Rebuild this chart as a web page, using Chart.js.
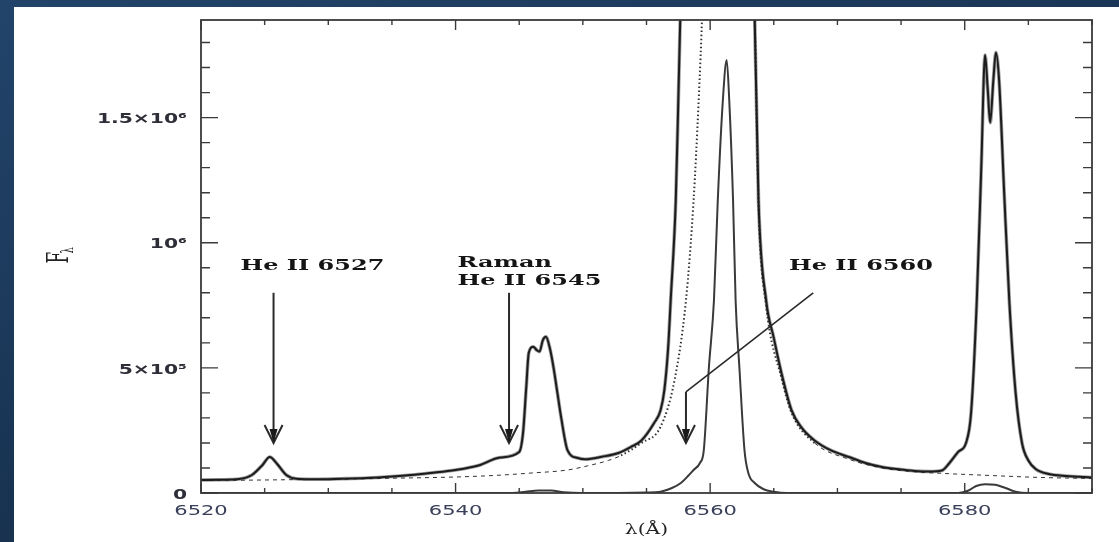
<!DOCTYPE html>
<html>
<head>
<meta charset="utf-8">
<script src="https://cdn.jsdelivr.net/npm/chart.js@4.4.1/dist/chart.umd.min.js"></script>
<style>
  html, body { margin: 0; padding: 0; }
  body {
    width: 1119px; height: 542px; overflow: hidden; position: relative;
    background: linear-gradient(160deg, #22446a 0%, #1a3656 45%, #0f2238 100%);
  }
  #panel {
    position: absolute; left: 14px; top: 7px; width: 1105px; height: 535px;
    background: #ffffff;
  }
</style>
</head>
<body>
<div id="panel"><canvas id="spectrum"></canvas></div>
<script>
// wavelengths in Angstrom, fluxes in units of 1e5

// observed spectrum
const obsLam = [6520.0, 6521.5, 6523.0, 6524.0, 6524.8, 6525.4, 6526.0, 6526.7, 6527.5, 6529.0,
  6531.0, 6533.0, 6535.0, 6536.5, 6538.0, 6540.0, 6541.8, 6543.5, 6545.0, 6545.3,
  6545.55, 6545.75, 6546.1, 6546.4, 6546.6, 6546.85, 6547.1, 6547.4, 6547.7, 6548.0,
  6548.3, 6548.8, 6549.6, 6550.2, 6551.5, 6552.8, 6553.8, 6554.6, 6555.6, 6556.1,
  6556.4, 6556.7, 6556.9, 6557.3, 6557.5, 6557.7, 6558.2, 6559.0, 6561.0, 6563.0,
  6563.5, 6563.8, 6564.4, 6565.0, 6565.6, 6566.4, 6567.2, 6568.2, 6569.5, 6570.9,
  6572.2, 6573.5, 6575.0, 6576.1, 6577.2, 6578.2, 6578.8, 6579.5, 6580.1, 6580.5,
  6580.95, 6581.3, 6581.6, 6581.8, 6582.0, 6582.25, 6582.45, 6582.7, 6583.1, 6583.5,
  6584.0, 6584.5, 6585.0, 6585.6, 6586.6, 6588.0, 6590.0];
const obsFlux = [0.52, 0.53, 0.56, 0.72, 1.1, 1.44, 1.15, 0.72, 0.57, 0.55,
  0.57, 0.6, 0.66, 0.72, 0.8, 0.92, 1.1, 1.42, 1.64, 2.4,
  4.2, 5.6, 5.84, 5.7, 5.65, 6.1, 6.24, 5.8, 5.0, 4.0,
  3.0, 1.7, 1.4, 1.35, 1.45, 1.6, 1.85, 2.1, 2.8, 3.3,
  4.1, 5.8, 7.7, 11.7, 15.7, 20, 30, 40, 45, 35,
  19, 11.7, 7.7, 6.2, 4.8, 3.3, 2.6, 2.1, 1.7, 1.44,
  1.2, 1.04, 0.94, 0.88, 0.86, 0.9, 1.2, 1.65, 2.0, 3.2,
  7.7, 13, 17.5, 16.2, 14.8, 16.5, 17.6, 16.5, 12, 7.7,
  4.0, 2.0, 1.3, 0.95, 0.76, 0.68, 0.62];

// broad H-alpha wing + continuum model
const wingLam = [6520, 6525, 6530, 6535, 6540, 6543, 6546, 6548.8, 6550.5, 6552,
  6553, 6554.6, 6556.1, 6557.2, 6558.1, 6558.7, 6559.1, 6559.4, 6560.0, 6561.4,
  6562.8, 6563.5, 6563.8, 6564.4, 6565.6, 6566.4, 6568.2, 6570.9, 6573.5, 6576.0,
  6578.0, 6582.0, 6586.0, 6590.0];
const wingFlux = [0.5, 0.52, 0.55, 0.59, 0.64, 0.7, 0.8, 0.92, 1.1, 1.3,
  1.5, 2.0, 2.64, 4.5, 7.7, 11.7, 15.7, 19.5, 30, 40,
  30, 19, 11.5, 7.5, 4.6, 3.2, 2.0, 1.35, 1.0, 0.85,
  0.79, 0.7, 0.62, 0.58];

// narrow component
const narrowLam = [6520, 6544.5, 6545.5, 6546.5, 6547.5, 6548.5, 6550, 6555, 6556.1, 6557.0,
  6557.7, 6558.3, 6558.7, 6559.2, 6559.5, 6559.9, 6560.3, 6560.6, 6561.0, 6561.3,
  6561.5, 6561.8, 6562.0, 6562.3, 6562.7, 6563.0, 6563.5, 6564.2, 6565.0, 6566,
  6579.5, 6580.3, 6580.9, 6581.6, 6582.4, 6583.2, 6584, 6585, 6590];
const narrowFlux = [0, 0, 0.05, 0.1, 0.1, 0.03, 0, 0.02, 0.05, 0.2,
  0.4, 0.7, 0.92, 1.2, 1.7, 5.0, 7.7, 11.7, 15.7, 17.3,
  15.7, 11.7, 7.7, 5.0, 1.7, 0.8, 0.4, 0.15, 0.05, 0,
  0, 0.1, 0.28, 0.35, 0.33, 0.2, 0.05, 0, 0];

// axis labels
const xTickValues = [6520, 6540, 6560, 6580];
const yTickValues = [0, 5, 10, 15];
const yTickLabels = ['0', '5×10⁵', '10⁶', '1.5×10⁶'];

// line identifications
const noteLabels = ['He II 6527', 'Raman', 'He II 6545', 'He II 6560'];
const noteLam = [6523.1, 6540.15, 6540.15, 6566.2];
const noteFlux = [8.92, 9.04, 8.32, 8.92];
const arrowLam = [6525.7, 6544.2, 6558.1];
const arrowTop = [8.0, 8.0, 4.04];
const arrowTip = [2.0, 2.0, 2.0];
const leaderLam = [6568.1, 6558.1];
const leaderFlux = [8.0, 4.04];

const pts = (xs, ys) => xs.map((v, i) => ({ x: v, y: ys[i] }));

function wideText(ctx, str, px, py, align, sx) {
  ctx.save();
  ctx.translate(px, py);
  ctx.scale(sx, 1);
  ctx.textAlign = align;
  ctx.fillText(str, 0, 0);
  ctx.restore();
}

function arrowHead(ctx, px, py) {
  ctx.beginPath();
  ctx.moveTo(px - 9, py - 18);
  ctx.lineTo(px, py);
  ctx.lineTo(px + 9, py - 18);
  ctx.stroke();
  ctx.beginPath();
  ctx.moveTo(px, py);
  ctx.lineTo(px - 4, py - 14);
  ctx.lineTo(px + 4, py - 14);
  ctx.closePath();
  ctx.fill();
}

const frame = {
  id: 'frame',
  afterDatasetsDraw(chart) {
    const { ctx, chartArea: a, scales: { x, y } } = chart;
    ctx.save();
    ctx.strokeStyle = '#3a3a3a';
    ctx.lineWidth = 1.8;
    ctx.strokeRect(a.left, a.top, a.right - a.left, a.bottom - a.top);

    ctx.lineWidth = 1.4;
    ctx.beginPath();
    x.ticks.forEach(t => {
      const px = x.getPixelForValue(t.value);
      const len = t.value % 20 === 0 ? 10 : 5;
      ctx.moveTo(px, a.bottom); ctx.lineTo(px, a.bottom - len);
      ctx.moveTo(px, a.top); ctx.lineTo(px, a.top + len);
    });
    y.ticks.forEach(t => {
      if (!Number.isInteger(t.value)) return;
      const py = y.getPixelForValue(t.value);
      const len = t.value % 5 === 0 ? 17 : 9;
      ctx.moveTo(a.left, py); ctx.lineTo(a.left + len, py);
      ctx.moveTo(a.right, py); ctx.lineTo(a.right - len, py);
    });
    ctx.stroke();

    // tick labels
    ctx.fillStyle = '#2e2e38';
    ctx.font = 'bold 14px "DejaVu Sans"';
    ctx.textBaseline = 'middle';
    yTickValues.forEach((v, i) => {
      wideText(ctx, yTickLabels[i], a.left - 14, y.getPixelForValue(v) + 2, 'right', 1.45);
    });
    ctx.fillStyle = '#3a405a';
    ctx.font = '14px "DejaVu Sans"';
    xTickValues.forEach(v => {
      wideText(ctx, String(v), x.getPixelForValue(v), a.bottom + 18, 'center', 1.5);
    });

    // axis titles
    ctx.fillStyle = '#222';
    ctx.font = '15px "DejaVu Serif"';
    wideText(ctx, 'λ(Å)', (a.left + a.right) / 2, a.bottom + 37, 'center', 1.35);
    ctx.save();
    ctx.translate(a.left - 133, (a.top + a.bottom) / 2 + 7);
    ctx.scale(1.7, 1);
    ctx.rotate(-Math.PI / 2);
    ctx.textAlign = 'left';
    ctx.textBaseline = 'alphabetic';
    ctx.font = '17px "DejaVu Serif"';
    ctx.fillText('F', 0, 0);
    ctx.font = '10px "DejaVu Serif"';
    ctx.fillText('λ', 10, 3);
    ctx.restore();

    // line identifications
    ctx.fillStyle = '#151515';
    ctx.textBaseline = 'alphabetic';
    ctx.font = 'bold 15px "DejaVu Serif"';
    noteLabels.forEach((s, i) => {
      wideText(ctx, s, x.getPixelForValue(noteLam[i]), y.getPixelForValue(noteFlux[i]), 'left', 1.6);
    });

    ctx.strokeStyle = '#2a2a2a';
    ctx.fillStyle = '#1a1a1a';
    ctx.lineWidth = 2;
    arrowLam.forEach((l, i) => {
      const px = x.getPixelForValue(l);
      const top = y.getPixelForValue(arrowTop[i]);
      const tip = y.getPixelForValue(arrowTip[i]);
      ctx.beginPath();
      ctx.moveTo(px, top); ctx.lineTo(px, tip - 2);
      ctx.stroke();
      arrowHead(ctx, px, tip);
    });
    ctx.lineWidth = 1.6;
    ctx.beginPath();
    ctx.moveTo(x.getPixelForValue(leaderLam[0]), y.getPixelForValue(leaderFlux[0]));
    ctx.lineTo(x.getPixelForValue(leaderLam[1]), y.getPixelForValue(leaderFlux[1]));
    ctx.stroke();
    ctx.restore();
  }
};

new Chart(document.getElementById('spectrum'), {
  type: 'line',
  data: {
    datasets: [
      {
        label: 'observed',
        data: pts(obsLam, obsFlux),
        borderColor: '#1c1c1c',
        borderWidth: 2,
        pointRadius: 0,
        cubicInterpolationMode: 'monotone',
        order: 1
      },
      {
        label: 'narrow',
        data: pts(narrowLam, narrowFlux),
        borderColor: '#3a3a3a',
        borderWidth: 2,
        pointRadius: 0,
        cubicInterpolationMode: 'monotone',
        order: 2
      },
      {
        label: 'wing',
        data: pts(wingLam, wingFlux),
        borderColor: '#333',
        borderWidth: 1.2,
        pointRadius: 0,
        cubicInterpolationMode: 'monotone',
        segment: {
          borderDash: c => (c.p0.parsed.y > 1.45 && c.p1.parsed.y > 1.45) ? [1.5, 2.5] : [4, 4],
          borderWidth: c => (c.p0.parsed.y > 1.45 && c.p1.parsed.y > 1.45) ? 2 : 1
        },
        order: 3
      },
      {
        label: 'observed (halo)',
        data: pts(obsLam, obsFlux),
        borderColor: '#a0a0a0',
        borderWidth: 3.6,
        pointRadius: 0,
        cubicInterpolationMode: 'monotone',
        order: 4
      }
    ]
  },
  options: {
    animation: false,
    responsive: true,
    maintainAspectRatio: false,
    layout: { padding: { left: 187, top: 13, right: 27, bottom: 49 } },
    plugins: { legend: { display: false }, tooltip: { enabled: false } },
    scales: {
      x: {
        type: 'linear', min: 6520, max: 6590,
        ticks: { display: false, stepSize: 5 },
        grid: { display: false },
        border: { display: false },
        afterFit: s => { s.height = 0; }
      },
      y: {
        min: 0, max: 18.9,
        ticks: { display: false, stepSize: 1 },
        grid: { display: false },
        border: { display: false },
        afterFit: s => { s.width = 0; }
      }
    }
  },
  plugins: [frame]
});
</script>
</body>
</html>
